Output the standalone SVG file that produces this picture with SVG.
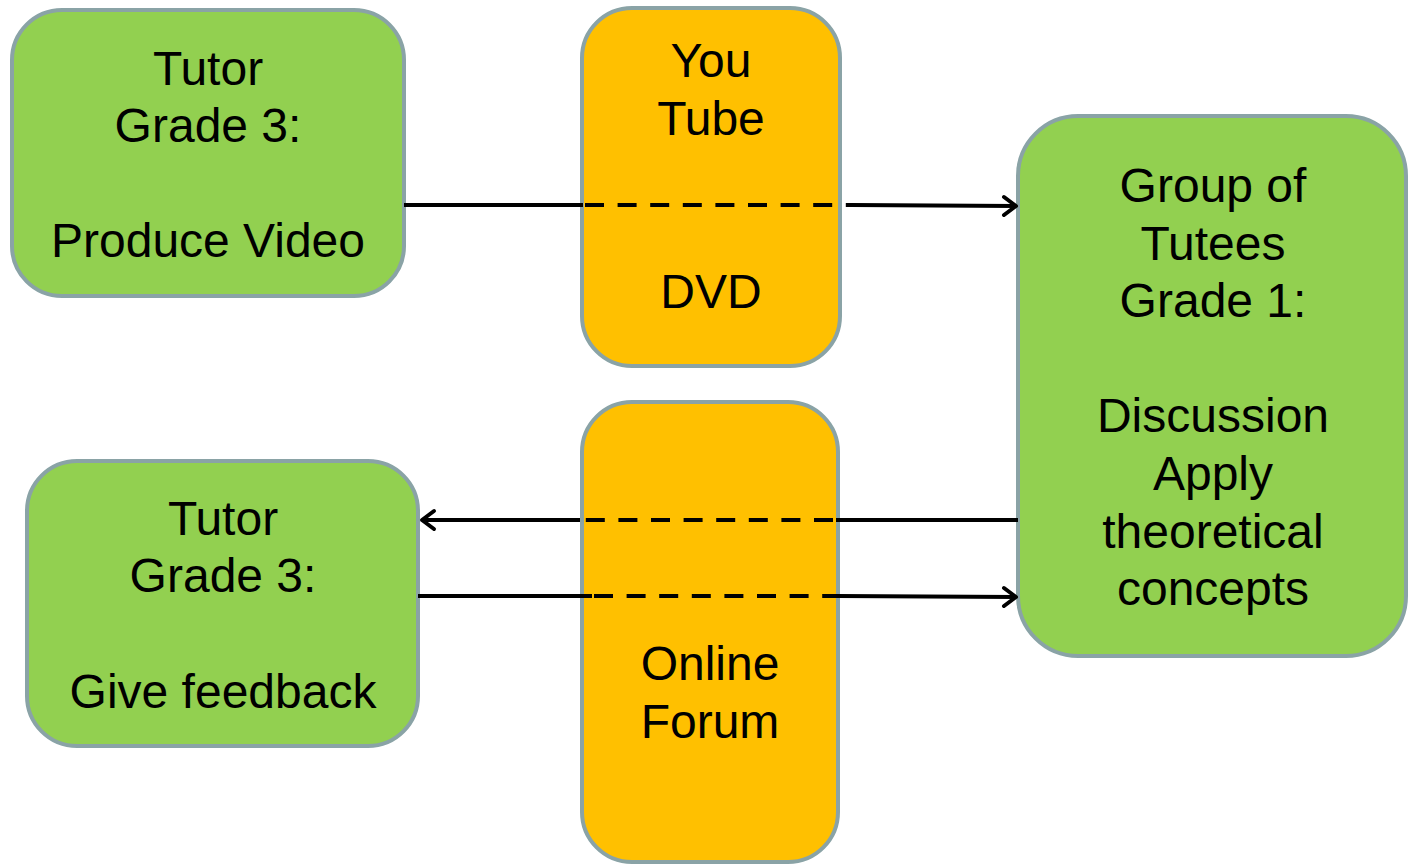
<svg xmlns="http://www.w3.org/2000/svg" width="1408" height="865" viewBox="0 0 1408 865">
<defs>
<style>
.g{fill:#92d050;stroke:#8aa3a6;stroke-width:4}
.o{fill:#ffc000;stroke:#8aa3a6;stroke-width:4}
text{font-family:"Liberation Sans",Arial,sans-serif;font-size:48px;fill:#000;text-anchor:middle}
.s{stroke:#000;stroke-width:4;fill:none}
.d{stroke:#000;stroke-width:4;fill:none;stroke-dasharray:19 13.6}
.a{stroke:#000;stroke-width:4;fill:none;stroke-linecap:round;stroke-linejoin:round}
</style>
</defs>
<g id="tutor1">
<rect class="g" x="12" y="10" width="392" height="286" rx="50"/>
<text x="208" y="85">Tutor</text>
<text x="208" y="142">Grade 3:</text>
<text x="208" y="257">Produce Video</text>
</g>
<g id="youtube">
<rect class="o" x="582" y="8" width="258" height="358" rx="50"/>
<text x="711" y="77">You</text>
<text x="711" y="135">Tube</text>
<text x="711" y="308">DVD</text>
</g>
<g id="group">
<rect class="g" x="1018" y="116" width="388" height="540" rx="60"/>
<text x="1213" y="202">Group of</text>
<text x="1213" y="260">Tutees</text>
<text x="1213" y="317">Grade 1:</text>
<text x="1213" y="432">Discussion</text>
<text x="1213" y="490">Apply</text>
<text x="1213" y="548">theoretical</text>
<text x="1213" y="605">concepts</text>
</g>
<g id="tutor2">
<rect class="g" x="27" y="461" width="391" height="285" rx="50"/>
<text x="223" y="535">Tutor</text>
<text x="223" y="592">Grade 3:</text>
<text x="223" y="708">Give feedback</text>
</g>
<g id="forum">
<rect class="o" x="582" y="402" width="256" height="460" rx="50"/>
<text x="710" y="680">Online</text>
<text x="710" y="738">Forum</text>
</g>
<g id="connectors">
<path class="s" d="M404 205H583"/>
<path class="d" d="M585 205H852"/>
<path class="s" d="M852 205L1016 206"/>
<path class="a" d="M1004 197L1016 206L1004 215"/>
<path class="s" d="M1018 520H836"/>
<path class="d" d="M833 520H580"/>
<path class="s" d="M580 520H422"/>
<path class="a" d="M434 511L422 520L434 529"/>
<path class="s" d="M418 596H592"/>
<path class="d" d="M594 596H840"/>
<path class="s" d="M838 596L1016 597"/>
<path class="a" d="M1004 588L1016 597L1004 606"/>
</g>
</svg>
